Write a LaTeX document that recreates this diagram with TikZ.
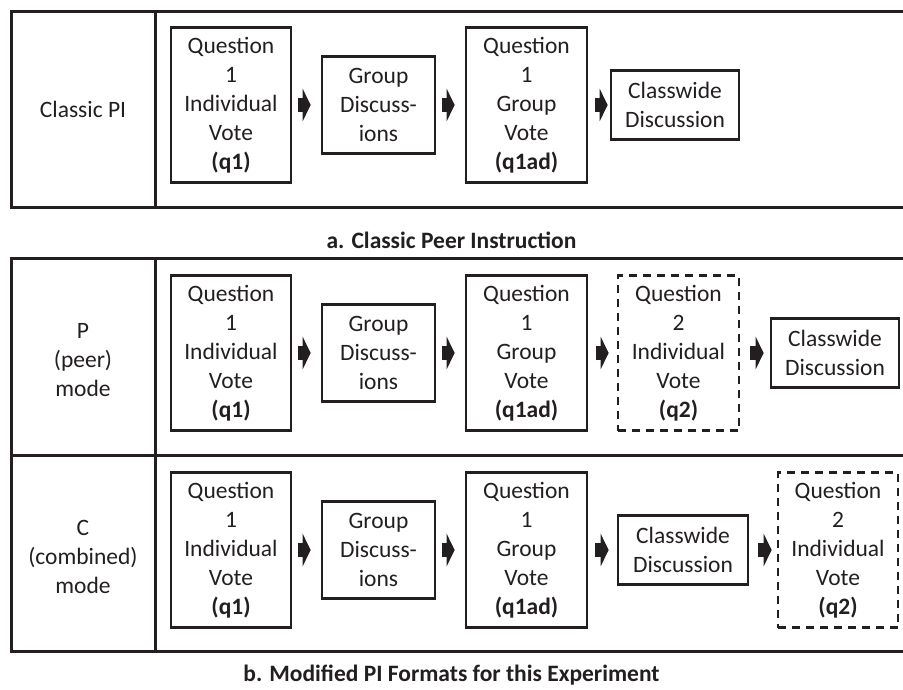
\documentclass[tikz,border=0pt]{standalone}
\usepackage{fontspec}
\setmainfont{Carlito}
\usetikzlibrary{arrows.meta}
\definecolor{ink}{RGB}{35,31,32}
\tikzset{
  frame/.style={draw=ink, line width=3pt, line join=miter},
  box/.style={draw=ink, line width=2.6pt, align=center, text=ink, inner sep=0pt,
    font=\fontsize{23.5}{29}\selectfont},
  qbox/.style={box, minimum width=120pt, minimum height=155pt},
  gbox/.style={box, minimum width=113pt, minimum height=97pt},
  cbox/.style={box, minimum width=128pt, minimum height=69pt},
  dbox/.style={qbox, dash pattern=on 8pt off 6pt},
  lbl/.style={align=center, text=ink, font=\fontsize{23.5}{29}\selectfont},
  captext/.style={text=ink, font=\fontsize{23.5}{29}\selectfont\bfseries},
  blk/.style={draw=ink, line width=14pt, -{Triangle[length=8pt,width=32pt]}, ink}
}
\begin{document}
\begin{tikzpicture}[x=1pt,y=-1pt]
\useasboundingbox (0,0) rectangle (903,689);
% frames
\draw[frame] (903,11) -- (11,11) -- (11,207) -- (903,207);
\draw[frame] (155,11) -- (155,207);
\draw[frame] (903,258) -- (11,258) -- (11,651) -- (903,651);
\draw[frame] (11,455) -- (903,455);
\draw[frame] (155,258) -- (155,651);
% captions
\node[captext] (capa) at (451.5,240) {a. Classic Peer Instruction};
\node[captext] (capb) at (451.5,675) {b. Modified PI Formats for this Experiment};
% row labels
\node[lbl] (la) at (83,109) {Classic PI};
\node[lbl] (lp) at (83,360) {P\\(peer)\\mode};
\node[lbl] (lc) at (83,557) {C\\(combined)\\mode};
% row a
\node[qbox] (a1) at (231,105) {Question\\1\\Individual\\Vote\\\textbf{(q1)}};
\node[gbox] (a2) at (378.5,105) {Group\\Discuss-\\ions};
\node[qbox, minimum width=121pt] (a3) at (526.5,105) {Question\\1\\Group\\Vote\\\textbf{(q1ad)}};
\node[cbox] (a4) at (675,105) {Classwide\\Discussion};
\draw[blk, shorten <=6pt, shorten >=10pt] (a1.east) -- (a2.west);
\draw[blk, shorten <=6pt, shorten >=10pt] (a2.east) -- (a3.west);
\draw[blk, shorten <=7pt, shorten >=2pt] (a3.east) -- (a4.west);
% row P
\node[qbox] (p1) at (231,353) {Question\\1\\Individual\\Vote\\\textbf{(q1)}};
\node[gbox] (p2) at (378.5,353) {Group\\Discuss-\\ions};
\node[qbox, minimum width=121pt] (p3) at (526.5,353) {Question\\1\\Group\\Vote\\\textbf{(q1ad)}};
\node[dbox, minimum width=121pt] (p4) at (678.5,353) {Question\\2\\Individual\\Vote\\\textbf{(q2)}};
\node[cbox] (p5) at (835,353) {Classwide\\Discussion};
\draw[blk, shorten <=6pt, shorten >=10pt] (p1.east) -- (p2.west);
\draw[blk, shorten <=6pt, shorten >=10pt] (p2.east) -- (p3.west);
\draw[blk, shorten <=8pt, shorten >=8pt] (p3.east) -- (p4.west);
\draw[blk, shorten <=10pt, shorten >=6pt] (p4.east) -- (p5.west);
% row C
\node[qbox] (c1) at (231,550) {Question\\1\\Individual\\Vote\\\textbf{(q1)}};
\node[gbox] (c2) at (378.5,550) {Group\\Discuss-\\ions};
\node[qbox, minimum width=121pt] (c3) at (526.5,550) {Question\\1\\Group\\Vote\\\textbf{(q1ad)}};
\node[cbox, minimum width=130pt] (c4) at (683,550) {Classwide\\Discussion};
\node[dbox] (c5) at (838,550) {Question\\2\\Individual\\Vote\\\textbf{(q2)}};
\draw[blk, shorten <=6pt, shorten >=10pt] (c1.east) -- (c2.west);
\draw[blk, shorten <=6pt, shorten >=10pt] (c2.east) -- (c3.west);
\draw[blk, shorten <=7pt, shorten >=8pt] (c3.east) -- (c4.west);
\draw[blk, shorten <=9pt, shorten >=5pt] (c4.east) -- (c5.west);
\end{tikzpicture}
\end{document}
